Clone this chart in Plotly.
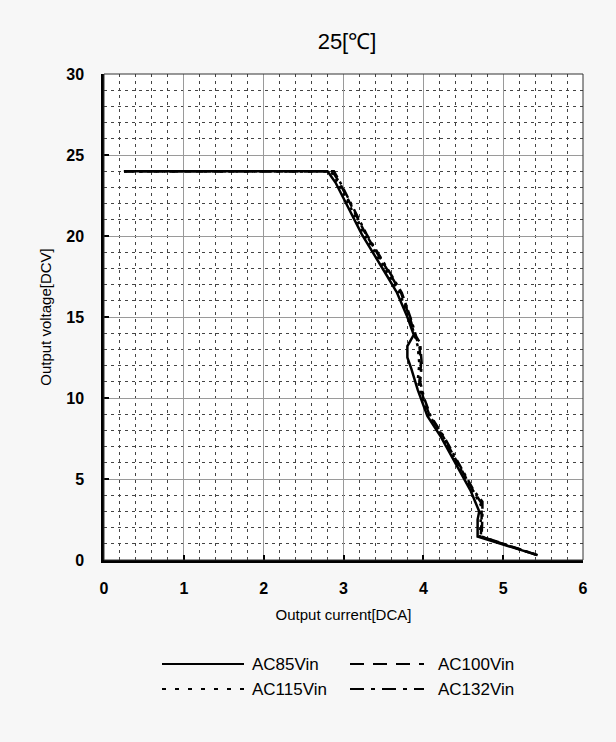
import plotly.graph_objects as go

title_text = "25[℃]"
series_names = ["AC85Vin", "AC100Vin", "AC115Vin", "AC132Vin"]

x85 = [0.25, 2.8, 2.9, 3.23, 3.55, 3.67, 3.8, 3.88, 3.8, 3.8, 3.85, 3.93, 4.05, 4.22, 4.59, 4.7, 4.68, 4.68, 5.43]
y85 = [24, 24, 23.3, 20.1, 17.5, 16.5, 15.0, 13.9, 13.2, 12.5, 11.8, 10.5, 8.9, 7.6, 4.3, 3.0, 2.5, 1.45, 0.3]

x100 = [0.25, 2.86, 2.95, 3.28, 3.6, 3.72, 3.84, 3.9, 3.95, 3.97, 3.95, 4.0, 4.08, 4.25, 4.62, 4.73, 4.73, 4.72, 5.43]
y100 = [24, 24, 23.3, 20.1, 17.5, 16.5, 14.8, 13.8, 13.3, 12.0, 11.0, 10.0, 8.9, 7.6, 4.3, 3.5, 2.6, 1.45, 0.3]

x115 = [0.25, 2.84, 2.93, 3.26, 3.58, 3.7, 3.83, 3.89, 3.93, 3.95, 3.93, 3.98, 4.07, 4.24, 4.61, 4.72, 4.72, 4.71, 5.43]
y115 = [24, 24, 23.3, 20.1, 17.5, 16.5, 14.9, 13.9, 13.2, 12.1, 11.1, 10.1, 8.9, 7.6, 4.3, 3.4, 2.6, 1.45, 0.3]

x132 = [0.25, 2.88, 2.96, 3.29, 3.61, 3.73, 3.85, 3.91, 3.96, 3.98, 3.96, 4.01, 4.09, 4.26, 4.63, 4.74, 4.74, 4.73, 5.43]
y132 = [24, 24, 23.3, 20.1, 17.5, 16.5, 14.8, 13.8, 13.4, 12.1, 11.0, 10.0, 8.9, 7.6, 4.3, 3.6, 2.7, 1.45, 0.3]

xs = [x85, x100, x115, x132]
ys = [y85, y100, y115, y132]
line_dashes = ["solid", "9px,6px", "3px,5px", "10px,5px,3px,5px"]
legend_dashes = ["solid", "14px,9px", "4px,9px", "14px,7px,4px,7px"]

W, H = 616, 742
ML, MR, MT, MB = 104, 33, 74, 182
PW, PH = W - ML - MR, H - MT - MB

fig = go.Figure()
for name, x, y, d in zip(series_names, xs, ys, line_dashes):
    fig.add_trace(go.Scatter(x=x, y=y, mode="lines", name=name, showlegend=False,
                             line=dict(color="black", width=2.5, dash=d)))

font_family = "Liberation Sans, Arial, sans-serif"

fig.update_layout(
    width=W, height=H,
    margin=dict(l=ML, r=MR, t=MT, b=MB),
    paper_bgcolor="#f7f7f7",
    plot_bgcolor="white",
    font=dict(family=font_family, color="black", size=15),
    title=dict(text=title_text, x=347 / W, xanchor="center", y=0.944, yanchor="middle",
               font=dict(size=22, family=font_family)),
    xaxis=dict(range=[0, 6], dtick=1, showgrid=True, gridcolor="#9a9a9a", gridwidth=1,
               minor=dict(dtick=0.2, showgrid=True, gridcolor="#444444", griddash="3px,4px", gridwidth=1),
               showline=True, linecolor="black", linewidth=2.5, zeroline=False,
               ticks="inside", ticklen=5, tickwidth=2, tickcolor="black",
               ticklabelstandoff=12,
               tickfont=dict(size=16, family=font_family, weight="bold"),
               title=dict(text="Output current[DCA]", font=dict(size=15), standoff=14)),
    yaxis=dict(range=[0, 30], dtick=5, showgrid=True, gridcolor="#9a9a9a", gridwidth=1,
               minor=dict(dtick=1, showgrid=True, gridcolor="#444444", griddash="3px,4px", gridwidth=1),
               showline=True, linecolor="black", linewidth=2.5, zeroline=False,
               ticks="inside", ticklen=5, tickwidth=2, tickcolor="black",
               ticklabelstandoff=14,
               tickfont=dict(size=16, family=font_family, weight="bold"),
               title=dict(text="Output voltage[DCV]", font=dict(size=15), standoff=12)),
)

fig.add_shape(type="rect", xref="paper", yref="paper", x0=0, y0=0, x1=1, y1=1,
              line=dict(color="#333333", width=1), layer="above")

# Legend drawn below the plot: two rows, two columns
def px_x(p):
    return (p - ML) / PW

def px_y(p):
    return (H - MB - p) / PH

legend_rows = [664, 689]
legend_cols = [(162, 244, 250), (350, 424, 436)]
for i, (name, d) in enumerate(zip(series_names, legend_dashes)):
    row = legend_rows[i // 2]
    x0, x1, xt = legend_cols[i % 2]
    fig.add_shape(type="line", xref="paper", yref="paper",
                  x0=px_x(x0), x1=px_x(x1), y0=px_y(row), y1=px_y(row),
                  line=dict(color="black", width=2, dash=d))
    fig.add_annotation(text=name, xref="paper", yref="paper", x=px_x(xt), y=px_y(row),
                       xanchor="left", yanchor="middle", showarrow=False,
                       font=dict(size=17, family=font_family, color="black"))

fig.write_html("out.html", config={"displayModeBar": False},
               post_script="document.body.style.margin='0';document.body.style.background='#f7f7f7';")
